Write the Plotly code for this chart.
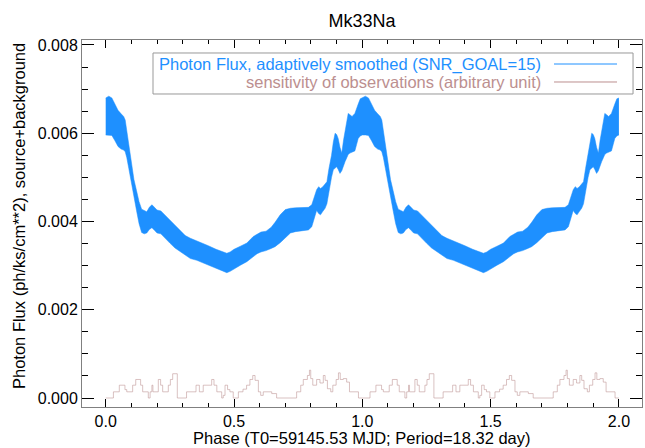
import numpy as np
import plotly.graph_objects as go

# ---- data (one folded period, shown twice) ----
phase = [0.000, 0.012, 0.024, 0.036, 0.048, 0.060, 0.070, 0.076, 0.082, 0.090,
         0.100, 0.110, 0.120, 0.130, 0.140, 0.150, 0.160, 0.170, 0.180, 0.190,
         0.200, 0.215, 0.230, 0.250, 0.270, 0.290, 0.310, 0.330, 0.355, 0.380,
         0.400, 0.430, 0.455, 0.472, 0.485, 0.500, 0.525, 0.550, 0.575, 0.590,
         0.605, 0.625, 0.645, 0.660, 0.680, 0.700, 0.720, 0.740, 0.765, 0.790,
         0.803, 0.812, 0.822, 0.830, 0.837, 0.845, 0.855, 0.862, 0.870, 0.880,
         0.887, 0.894, 0.900, 0.906, 0.913, 0.920, 0.927, 0.933, 0.940, 0.945,
         0.952, 0.960, 0.971, 0.978, 0.984, 0.992, 1.000]
flux_hi = [6.80, 6.84, 6.80, 6.66, 6.52, 6.44, 6.38, 6.30, 6.05, 5.70,
           5.30, 4.95, 4.70, 4.45, 4.28, 4.24, 4.22, 4.32, 4.38, 4.32,
           4.26, 4.24, 4.15, 4.03, 3.92, 3.78, 3.68, 3.62, 3.56, 3.51,
           3.45, 3.37, 3.31, 3.28, 3.31, 3.37, 3.44, 3.51, 3.66, 3.72,
           3.76, 3.78, 3.87, 3.98, 4.15, 4.27, 4.30, 4.31, 4.31, 4.32,
           4.38, 4.55, 4.72, 4.79, 4.75, 4.78, 4.84, 4.90, 5.20, 5.50,
           5.80, 6.00, 5.97, 5.88, 5.68, 5.55, 5.85, 6.07, 6.30, 6.45,
           6.42, 6.38, 6.45, 6.58, 6.66, 6.78, 6.80]
flux_lo = [5.96, 5.96, 5.95, 5.83, 5.70, 5.64, 5.62, 5.58, 5.45, 5.20,
           4.85, 4.55, 4.25, 3.95, 3.75, 3.72, 3.74, 3.82, 3.86, 3.80,
           3.74, 3.72, 3.62, 3.51, 3.40, 3.32, 3.22, 3.16, 3.12, 3.06,
           3.02, 2.94, 2.88, 2.84, 2.87, 2.93, 3.01, 3.09, 3.20, 3.27,
           3.31, 3.34, 3.39, 3.43, 3.52, 3.64, 3.74, 3.77, 3.79, 3.81,
           3.88, 4.05, 4.25, 4.18, 4.15, 4.22, 4.30, 4.40, 4.70, 5.00,
           5.17, 5.22, 5.24, 5.18, 5.09, 5.15, 5.28, 5.36, 5.45, 5.52,
           5.55, 5.57, 5.60, 5.75, 5.88, 5.94, 5.96]

sens_phase = [0.000, 0.030, 0.053, 0.075, 0.082, 0.105, 0.117, 0.136, 0.144, 0.166,
              0.173, 0.180, 0.184, 0.205, 0.214, 0.222, 0.244, 0.252, 0.261, 0.279,
              0.315, 0.352, 0.365, 0.380, 0.413, 0.422, 0.433, 0.452, 0.458, 0.465,
              0.475, 0.484, 0.497, 0.517, 0.535, 0.549, 0.562, 0.573, 0.582, 0.595,
              0.604, 0.614, 0.647, 0.666, 0.744, 0.760, 0.770, 0.786, 0.794, 0.799,
              0.807, 0.822, 0.835, 0.848, 0.855, 0.864, 0.877, 0.885, 0.898, 0.907,
              0.914, 0.926, 0.939, 0.950, 0.985, 1.000]
sens_val = [0.00, 0.14, 0.29, 0.19, 0.14, 0.29, 0.42, 0.29, 0.14, 0.00,
            0.14, 0.29, 0.14, 0.42, 0.29, 0.14, 0.29, 0.42, 0.55, 0.00,
            0.14, 0.29, 0.14, 0.29, 0.42, 0.29, 0.14, 0.00, 0.06, 0.29,
            0.19, 0.14, 0.00, 0.14, 0.20, 0.29, 0.42, 0.51, 0.40, 0.14,
            0.06, 0.14, 0.10, 0.00, 0.14, 0.29, 0.42, 0.51, 0.63, 0.44,
            0.29, 0.42, 0.34, 0.51, 0.40, 0.21, 0.14, 0.29, 0.42, 0.57,
            0.42, 0.44, 0.36, 0.14, 0.00, 0.00]

x_ticks = [0.0, 0.5, 1.0, 1.5, 2.0]
y_ticks = [0.000, 0.002, 0.004, 0.006, 0.008]

# fold twice
ph = np.array(phase)
xb = np.concatenate([ph, ph[1:] + 1.0])
hi = np.array(flux_hi) * 1e-3
lo = np.array(flux_lo) * 1e-3
yhi = np.concatenate([hi, hi[1:]])
ylo = np.concatenate([lo, lo[1:]])

sp = np.array(sens_phase)
sv = np.array(sens_val) * 1e-3
xs = np.concatenate([sp, sp[1:] + 1.0])
ys = np.concatenate([sv, sv[1:]])

BLUE = "#1E90FF"
ROSY = "#BC8F8F"
FONT = "Liberation Sans"

fig = go.Figure()
fig.add_trace(go.Scatter(x=xb, y=ylo, mode="lines", line=dict(width=0.5, color=BLUE),
                         showlegend=False, hoverinfo="skip"))
fig.add_trace(go.Scatter(x=xb, y=yhi, mode="lines", line=dict(width=0.5, color=BLUE),
                         fill="tonexty", fillcolor=BLUE, showlegend=False))
fig.add_trace(go.Scatter(x=xs, y=ys, mode="lines", line=dict(width=1, color="rgba(188,143,143,0.55)", shape="hv"),
                         showlegend=False))

axis_common = dict(
    ticks="inside", tickcolor="black", showline=True, linecolor="#808080", linewidth=1,
    mirror="allticks", showgrid=False, zeroline=False,
    tickfont=dict(family=FONT, size=16, color="black"),
)
fig.update_xaxes(range=[-0.0924, 2.090], tickvals=x_ticks, ticktext=[f"{v:.1f}" for v in x_ticks],
                 ticklen=8, minor=dict(dtick=0.1, tick0=0, ticklen=4, ticks="inside", tickcolor="black"),
                 **axis_common)
fig.update_yaxes(range=[-0.000204, 0.008113], tickvals=y_ticks, ticktext=[f"{v:.3f}" for v in y_ticks],
                 ticklen=12, minor=dict(dtick=0.0005, tick0=0, ticklen=6, ticks="inside", tickcolor="black"),
                 **axis_common)

# legend box (drawn manually, text right-aligned with samples on the right)
lx0, lx1, ly0, ly1 = 0.1268, 0.984, 0.8529, 0.9646
fig.add_shape(type="rect", xref="paper", yref="paper", x0=lx0, x1=lx1, y0=ly0, y1=ly1,
              line=dict(color="#999999", width=1))
legend_items = [("Photon Flux, adaptively smoothed (SNR_GOAL=15)", BLUE, 0.9346),
                ("sensitivity of observations (arbitrary unit)", ROSY, 0.8856)]
for txt, col, yy in legend_items:
    fig.add_annotation(xref="paper", yref="paper", x=0.8232, y=yy, xanchor="right", yanchor="middle",
                       text=txt, showarrow=False, font=dict(family=FONT, size=16.5, color=col))
    fig.add_shape(type="line", xref="paper", yref="paper", x0=0.8429, x1=0.9554, y0=yy, y1=yy,
                  line=dict(color=col, width=1))

# axis titles
fig.add_annotation(xref="paper", yref="paper", x=0.5, y=0, yshift=-31, xanchor="center", yanchor="middle",
                   text="Phase (T0=59145.53 MJD; Period=18.32 day)", showarrow=False,
                   font=dict(family=FONT, size=16.5, color="black"))
fig.add_annotation(xref="paper", yref="paper", x=0, y=0.5, xshift=-63.5, yshift=7, xanchor="center", yanchor="middle",
                   text="Photon Flux (ph/ks/cm**2), source+background", textangle=-90, showarrow=False,
                   font=dict(family=FONT, size=16.5, color="black"))

fig.update_layout(
    width=645, height=448,
    margin=dict(l=82, r=3, t=40, b=41),
    plot_bgcolor="white", paper_bgcolor="white",
    title=dict(text="Mk33Na", x=0.5, xref="paper", xanchor="center", y=1 - 21 / 448, yanchor="middle",
               font=dict(family=FONT, size=18, color="black")),
    showlegend=False,
)

fig.write_html("out.html")
